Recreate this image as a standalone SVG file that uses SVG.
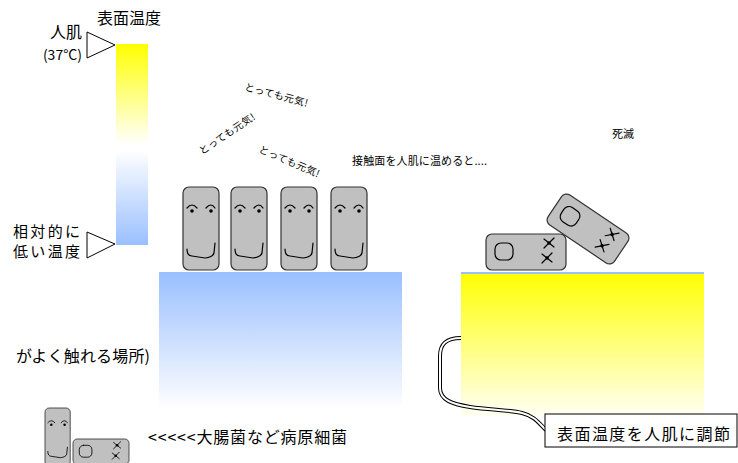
<svg xmlns="http://www.w3.org/2000/svg" xmlns:xlink="http://www.w3.org/1999/xlink" width="738" height="463" viewBox="0 0 738 463">
  <style>
    text { font-family: "Noto Sans CJK JP", "Liberation Sans", sans-serif; fill: #000; }
    .big { font-size: 16px; }
    .small { font-size: 10px; }
    .note { font-size: 11px; }
    .body { fill: #c0c0c0; stroke: #333; stroke-width: 1.2; }
    .line { fill: none; stroke: #000; stroke-width: 1.2; stroke-linecap: round; }
    .pointer { fill: #fff; stroke: #000; stroke-width: 1; }
  </style>
  <defs>
    <linearGradient id="scale" x1="0" y1="0" x2="0" y2="1">
      <stop offset="0" stop-color="#ffff00"/>
      <stop offset="0.5" stop-color="#ffffff"/>
      <stop offset="0.53" stop-color="#ffffff"/>
      <stop offset="1" stop-color="#99bfff"/>
    </linearGradient>
    <linearGradient id="cool" x1="0" y1="0" x2="0" y2="1">
      <stop offset="0" stop-color="#99bfff"/>
      <stop offset="1" stop-color="#ffffff"/>
    </linearGradient>
    <linearGradient id="warm" x1="0" y1="0" x2="0" y2="1">
      <stop offset="0" stop-color="#ffff00"/>
      <stop offset="1" stop-color="#fffff4"/>
    </linearGradient>
    <!-- lively bacterium, 36 x 83 -->
    <g id="face">
      <rect class="body" x="0" y="0" width="36" height="83" rx="6"/>
      <path class="line" d="M4,21 Q9,15 14,21 M23,21 Q28,15 32,21"/>
      <circle cx="9" cy="24" r="1.8"/>
      <circle cx="28" cy="24" r="1.8"/>
      <path class="line" d="M4,62 Q4,69 9,69 L22,71 Q30,70 31,66 L32,56"/>
    </g>
    <!-- dead bacterium, 80 x 36 -->
    <g id="dead">
      <rect class="body" x="0" y="0" width="80" height="36" rx="6"/>
      <rect class="line" x="9" y="9" width="18" height="17" rx="6"/>
      <path class="line" d="M58,5 L68,13 M58,14 L68,4"/>
      <circle cx="63" cy="9" r="1.8"/>
      <path class="line" d="M56,20 L66,28 M56,29 L66,19"/>
      <circle cx="61" cy="24" r="1.8"/>
    </g>
  </defs>

  <!-- temperature scale -->
  <g id="scale-bar">
    <rect x="116" y="44" width="32" height="201" fill="url(#scale)"/>
    <text class="big" x="97" y="24" font-size="17">表面温度</text>
  </g>
  <g id="skin-mark">
    <polygon class="pointer" points="87,32 87,58 115,45"/>
    <text class="big" x="82" y="38" text-anchor="end">人肌</text>
    <text x="82" y="60" font-size="14" text-anchor="end">(37°C)</text>
  </g>
  <g id="low-mark">
    <polygon class="pointer" points="87,232 87,258 115,244"/>
    <text x="13" y="237" font-size="15" textLength="67">相対的に</text>
    <text x="13" y="257" font-size="15" textLength="67">低い温度</text>
  </g>

  <!-- cool surface with lively bacteria -->
  <g id="cool-surface">
    <rect x="159" y="272" width="243" height="137" fill="url(#cool)"/>
  </g>
  <g id="bacteria-alive">
    <use xlink:href="#face" x="183" y="187"/>
    <use xlink:href="#face" x="231" y="187"/>
    <use xlink:href="#face" x="281" y="187"/>
    <use xlink:href="#face" x="331" y="187"/>
  </g>
  <g id="cheers">
    <text class="small" x="244" y="90" transform="rotate(15 244 90)" textLength="65">とっても元気!</text>
    <text class="small" x="202" y="155" transform="rotate(-34 202 155)" textLength="65">とっても元気!</text>
    <text class="small" x="258" y="152" transform="rotate(23 258 152)" textLength="65">とっても元気!</text>
  </g>
  <g id="touch-note">
    <text class="note" x="352" y="165" textLength="135">接触面を人肌に温めると....</text>
  </g>

  <!-- warmed surface with dead bacteria -->
  <g id="warm-surface">
    <rect x="461" y="272" width="243" height="144" fill="url(#warm)"/>
    <rect x="461" y="272" width="243" height="2" fill="#99bfff"/>
  </g>
  <g id="bacteria-dead">
    <use xlink:href="#dead" x="486" y="234"/>
    <use xlink:href="#dead" transform="translate(588 229) rotate(34) translate(-40 -18)"/>
  </g>
  <g id="dead-note">
    <text class="note" x="612" y="138">死滅</text>
  </g>

  <!-- cord to the heater label -->
  <g id="connectors">
    <path d="M461,338 C446,338 440,344 440,356 L440,388 C440,400 452,404 470,407 C490,410 510,410 522,413 C534,416 538,422 546,430" fill="none" stroke="#000" stroke-width="4"/>
    <path d="M461,338 C446,338 440,344 440,356 L440,388 C440,400 452,404 470,407 C490,410 510,410 522,413 C534,416 538,422 546,430" fill="none" stroke="#fff" stroke-width="2"/>
  </g>
  <g id="heater-label">
    <rect x="545" y="414" width="192" height="33" fill="#fff" stroke="#000" stroke-width="1"/>
    <text class="big" x="557" y="440" font-size="17" textLength="173">表面温度を人肌に調節</text>
  </g>

  <!-- lower-left texts and legend -->
  <g id="place-note">
    <text class="big" x="16" y="362" textLength="134">がよく触れる場所)</text>
  </g>
  <g id="legend">
    <use xlink:href="#face" transform="translate(45 408) scale(0.7)"/>
    <use xlink:href="#dead" transform="translate(73 439) scale(0.7)"/>
    <text class="big" x="148" y="443" textLength="199">&lt;&lt;&lt;&lt;&lt;大腸菌など病原細菌</text>
  </g>
</svg>
